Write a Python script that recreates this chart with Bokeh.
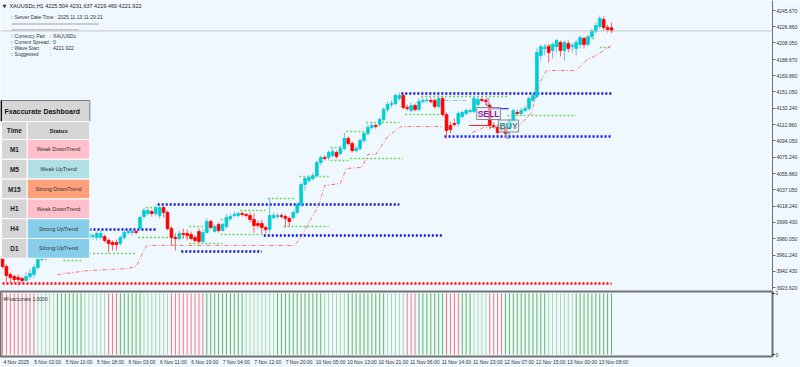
from bokeh.plotting import figure
from bokeh.layouts import column
from bokeh.models import ColumnDataSource, FixedTicker, PrintfTickFormatter, Span, Label, Range1d
from bokeh.core.properties import value
from bokeh.embed import file_html
from bokeh.resources import INLINE

FONT = "Liberation Sans"

# ---------------- data ----------------
opens = [3959.7, 3948.1, 3938.7, 3936.4, 3935.3, 3934.1, 3931.8, 3936.4, 3938.7, 3946.9,
         3956.2, 3962.0, 3958.5, 3967.8, 3972.5, 3969.0, 3977.1, 3980.6, 3976.0, 3981.8,
         3984.1, 3980.6, 3980.6, 3982.9, 3981.8, 3981.8, 3982.9, 3978.3, 3976.0, 3976.0,
         3974.8, 3981.8, 3987.6, 3987.6, 3988.7, 3992.2, 4006.2, 4009.7, 4012.0, 4009.7,
         4007.3, 4016.6, 4010.8, 3992.2, 3981.8, 3980.6, 3986.4, 3986.4, 3985.3, 3981.8,
         3988.7, 3977.1, 3987.6, 4000.4, 3988.7, 3996.9, 3989.9, 3994.6, 4003.9, 4007.3,
         4007.3, 4009.7, 4008.5, 4007.3, 4002.7, 3998.0, 3998.0, 3993.4, 3991.1, 4005.0,
         4006.2, 4007.3, 4006.2, 4003.9, 4005.0, 4010.8, 4020.1, 4043.4, 4048.0, 4050.4,
         4053.8, 4069.0, 4074.8, 4074.8, 4077.1, 4080.6, 4079.4, 4085.2, 4096.9, 4091.0,
         4082.9, 4085.2, 4094.5, 4102.7, 4109.7, 4112.0, 4113.1, 4119.0, 4130.6, 4136.4,
         4137.6, 4143.4, 4146.9, 4132.9, 4129.4, 4135.2, 4130.6, 4139.9, 4141.0, 4141.0,
         4141.0, 4134.1, 4143.4, 4124.8, 4112.0, 4114.3, 4114.3, 4122.4, 4125.9, 4128.3,
         4128.3, 4136.4, 4142.2, 4141.0, 4135.2, 4112.0, 4109.7, 4108.5, 4108.5, 4109.7,
         4117.8, 4127.1, 4125.9, 4129.4, 4131.7, 4141.0, 4145.7, 4193.4, 4201.5, 4203.8,
         4199.2, 4203.8, 4208.5, 4199.2, 4207.3, 4203.8, 4201.5, 4206.1, 4213.1, 4206.1,
         4215.4, 4221.3, 4227.1, 4235.2, 4225.9, 4225.504]
closes = [3948.1, 3937.6, 3935.3, 3932.9, 3932.9, 3931.8, 3936.4, 3939.9, 3946.9, 3956.2,
          3962.0, 3958.5, 3967.8, 3972.5, 3969.0, 3977.1, 3980.6, 3976.0, 3981.8, 3984.1,
          3980.6, 3982.9, 3986.4, 3984.1, 3986.4, 3986.4, 3978.3, 3974.8, 3973.6, 3973.6,
          3981.8, 3987.6, 3988.7, 3988.7, 3987.6, 4005.0, 4013.2, 4013.2, 4009.7, 4016.6,
          4016.6, 4010.8, 3992.2, 3981.8, 3980.6, 3986.4, 3985.3, 3984.1, 3980.6, 3978.3,
          3977.1, 3987.6, 4000.4, 3993.4, 3994.6, 3989.9, 3996.9, 4005.0, 4006.2, 4008.5,
          4009.7, 4008.5, 4007.3, 4002.7, 3995.7, 3995.7, 3993.4, 3991.1, 4007.3, 4007.3,
          4007.3, 4006.2, 4003.9, 4000.4, 4010.8, 4020.1, 4043.4, 4050.4, 4051.5, 4053.8,
          4069.0, 4074.8, 4073.6, 4080.6, 4081.7, 4075.9, 4085.2, 4096.9, 4091.0, 4082.9,
          4085.2, 4094.5, 4102.7, 4109.7, 4112.0, 4110.8, 4119.0, 4130.6, 4136.4, 4137.6,
          4146.9, 4146.9, 4132.9, 4131.7, 4135.2, 4130.6, 4139.9, 4141.0, 4141.6, 4139.9,
          4134.1, 4143.4, 4124.8, 4106.2, 4107.3, 4113.1, 4125.9, 4127.1, 4129.4, 4129.4,
          4143.4, 4142.2, 4141.0, 4139.9, 4112.0, 4110.8, 4103.8, 4107.3, 4102.7, 4117.8,
          4129.4, 4125.9, 4129.4, 4131.7, 4143.4, 4146.9, 4196.8, 4203.8, 4202.7, 4196.8,
          4206.1, 4210.8, 4199.2, 4208.5, 4201.5, 4205.0, 4208.5, 4214.3, 4206.1, 4215.4,
          4222.4, 4228.2, 4236.4, 4225.9, 4223.6, 4221.922]
highs = [3962.0, 3950.4, 3941.1, 3938.7, 3938.7, 3936.4, 3941.1, 3945.7, 3950.4, 3959.7,
         3965.5, 3964.3, 3971.3, 3976.0, 3974.8, 3980.6, 3984.1, 3982.9, 3985.3, 3987.6,
         3986.4, 3986.4, 3988.7, 3986.4, 3988.7, 3989.9, 3985.3, 3980.6, 3978.3, 3979.4,
         3984.1, 3991.1, 3991.1, 3991.1, 3991.1, 4007.3, 4016.6, 4015.5, 4014.3, 4019.0,
         4020.1, 4019.0, 4013.2, 3994.6, 3986.4, 3989.9, 3992.2, 3991.1, 3988.7, 3984.1,
         3992.2, 3991.1, 4003.9, 4002.7, 3996.9, 3999.2, 3999.2, 4008.5, 4009.7, 4012.0,
         4012.0, 4012.0, 4010.8, 4010.8, 4009.7, 4001.5, 4002.7, 3995.7, 4027.1, 4010.8,
         4009.7, 4009.7, 4008.5, 4006.2, 4013.2, 4022.5, 4045.7, 4052.7, 4053.8, 4057.3,
         4071.3, 4077.1, 4077.1, 4082.9, 4085.2, 4082.9, 4088.7, 4103.8, 4099.2, 4093.4,
         4088.7, 4096.9, 4105.0, 4113.1, 4115.5, 4114.3, 4121.3, 4132.9, 4139.9, 4141.0,
         4149.2, 4150.3, 4149.2, 4136.4, 4138.7, 4137.6, 4143.4, 4144.5, 4144.0, 4144.5,
         4143.4, 4146.9, 4145.7, 4127.1, 4116.6, 4120.1, 4128.3, 4129.4, 4131.7, 4131.7,
         4145.7, 4145.7, 4144.5, 4143.4, 4137.6, 4115.5, 4113.1, 4112.0, 4112.0, 4120.1,
         4131.7, 4130.6, 4132.9, 4135.2, 4145.7, 4150.3, 4201.5, 4206.1, 4206.1, 4206.1,
         4208.5, 4213.1, 4210.8, 4210.8, 4210.8, 4208.5, 4212.0, 4216.6, 4215.4, 4217.8,
         4224.7, 4231.7, 4239.9, 4238.7, 4229.0, 4231.637]
lows = [3945.7, 3929.4, 3928.3, 3928.3, 3926.0, 3928.3, 3930.6, 3932.9, 3934.1, 3944.6,
        3953.9, 3955.0, 3956.2, 3965.5, 3965.5, 3966.7, 3974.8, 3973.6, 3973.6, 3979.4,
        3978.3, 3978.3, 3979.4, 3979.4, 3978.3, 3979.4, 3976.0, 3964.3, 3966.7, 3966.7,
        3972.5, 3979.4, 3985.3, 3984.1, 3985.3, 3989.9, 4003.9, 4007.3, 4006.2, 4006.2,
        4003.9, 4005.0, 3989.9, 3972.5, 3966.7, 3978.3, 3980.6, 3978.3, 3978.3, 3976.0,
        3974.8, 3974.8, 3986.4, 3991.1, 3987.6, 3987.6, 3988.7, 3992.2, 4001.5, 4005.0,
        4005.0, 4006.2, 4005.0, 3999.2, 3987.6, 3992.2, 3986.4, 3986.4, 3987.6, 4002.7,
        4003.9, 4003.9, 3993.4, 3994.6, 4002.7, 4008.5, 4017.8, 4036.4, 4045.7, 4048.0,
        4051.5, 4065.5, 4071.3, 4071.3, 4074.8, 4073.6, 4077.1, 4082.9, 4088.7, 4080.6,
        4080.6, 4082.9, 4092.2, 4100.4, 4107.3, 4108.5, 4110.8, 4116.6, 4127.1, 4132.9,
        4135.2, 4141.0, 4130.6, 4129.4, 4127.1, 4128.3, 4128.3, 4137.6, 4138.5, 4137.6,
        4131.7, 4131.7, 4122.4, 4096.9, 4102.7, 4110.8, 4110.8, 4120.1, 4123.6, 4125.9,
        4125.9, 4134.1, 4138.7, 4136.4, 4107.3, 4108.5, 4101.5, 4105.0, 4098.0, 4107.3,
        4115.5, 4123.6, 4123.6, 4127.1, 4129.4, 4138.7, 4143.4, 4187.5, 4193.4, 4185.2,
        4189.9, 4196.8, 4192.2, 4187.5, 4196.8, 4196.8, 4193.4, 4201.5, 4201.5, 4203.8,
        4213.1, 4218.9, 4224.7, 4222.4, 4220.1, 4219.460]

price_ticks = [4245.670, 4226.860, 4208.050, 4188.670, 4169.860, 4151.050, 4132.240,
               4112.860, 4094.050, 4075.240, 4055.860, 4037.050, 4018.240, 3999.430,
               3980.050, 3961.240, 3942.430, 3923.620]
time_tick_idx = [0, 8, 16, 24, 32, 40, 48, 56, 64, 72, 80, 88, 96, 104, 112, 120, 128, 136, 144, 152]
time_tick_labels = ["4 Nov 2025", "5 Nov 02:00", "5 Nov 10:00", "5 Nov 18:00", "6 Nov 03:00",
                    "6 Nov 11:00", "6 Nov 19:00", "7 Nov 04:00", "7 Nov 12:00", "7 Nov 20:00",
                    "10 Nov 05:00", "10 Nov 13:00", "10 Nov 21:00", "11 Nov 06:00", "11 Nov 14:00",
                    "11 Nov 23:00", "12 Nov 07:00", "12 Nov 15:00", "13 Nov 00:00", "13 Nov 08:00"]

# histogram state per bar: r = down, g = strong up, p = weak up
hist_state = list("rrrrrrrrr" "ppppp" "ggggggg" "pppppp" "rrr" "gggggg" "ppppppp" "rrrrrrrrr"
                  "gggggggggg" "pppppppp" "gggggggggggg" "pppppp" "gggggggggg" "ppppp" "rrr"
                  "ggggggg" "rrrr" "ggg" "pppp" "rrrr" "ggggggggggg" "ppppppp" "gggggggggg")
hist_level = 1.0

# support / resistance levels (blue dotted)
sr_i0 = [14, 39.5, 45.5, 66.5, 101.5, 112.5]
sr_i1 = [39, 101, 66, 112, 155, 155]
sr_p = [3991.1, 4020.1, 3965.5, 3984.1, 4149.2, 4099.2]
low_level_i0, low_level_i1, low_level_p = 0, 155, 3928.3

# green dotted zones
g_i0 = [15.5, 22, 34.5, 36.5, 47.5, 47.5, 55.5, 60.5, 55.5, 67.5, 71.5, 75.5, 83.5, 83.5,
        87.5, 88.5, 92.5, 102.5, 106.5, 128.5, 138, 147, 152]
g_i1 = [20, 34, 47.5, 38.5, 51, 56, 58.5, 67, 66.5, 74.5, 83, 83, 88, 86, 92, 102, 101,
        111.5, 128.5, 146, 144.5, 151, 155]
g_p = [3955.0, 3963.2, 3981.8, 4016.6, 3994.6, 3974.8, 4002.7, 4013.2, 3985.3, 4027.1,
       3994.6, 4052.7, 4071.3, 4086.4, 4105.0, 4073.6, 4115.5, 4124.8, 4145.7, 4123.6,
       4205.0, 4213.1, 4202.7]

# trailing stop
trail_a_i = [14, 22, 32, 34, 36.5, 37.5, 74, 75.5, 78, 80.5, 82, 86, 87.5, 91.5, 93, 95, 98, 101.5, 112]
trail_a_p = [3938.7, 3943.4, 3945.7, 3948.1, 3971.3, 3972.5, 3972.5, 3978.3, 3999.2, 4019.0,
             4042.2, 4044.5, 4062.0, 4063.2, 4078.3, 4078.3, 4099.2, 4110.8, 4110.8]
trail_b_i = [119.5, 122.5, 131, 134.5, 137, 138.5, 146, 148.5, 151, 155]
trail_b_p = [4103.8, 4109.7, 4109.7, 4125.9, 4164.3, 4175.9, 4175.9, 4187.5, 4193.4, 4205.0]
trail_s_i = [112.5, 118]
trail_s_p = [4141.0, 4141.0]

# signals
sig_text = ["SELL", "BUY"]
sig_i = [123.7, 128.8]
sig_p = [4125.9, 4111.4]
sig_arrow = ["\u21e9", "\u21e7"]
sig_arrow_p = [4138.7, 4100.9]
entry_red_i, entry_red_p = [118.7, 123.7], 4112.0
entry_blue_i, entry_blue_p = [124.0, 128.8], 4131.7

current_price = 4221.922

timeframes = ["M1", "M5", "M15", "H1", "H4", "D1"]
statuses = ["Weak DownTrend", "Weak UpTrend", "Strong DownTrend", "Weak DownTrend",
            "Strong UpTrend", "Strong UpTrend"]
status_colors = {"Weak DownTrend": "#FFC0CB", "Weak UpTrend": "#B0E0E6",
                 "Strong DownTrend": "#FFA07A", "Strong UpTrend": "#87CEEB"}

header_text = "XAUUSDc,H1  4225.504 4231.637 4219.460 4221.922"
info_names = [":: Currency Pair", ":: Current Spread", ":: Wave Start", ":: Suggested"]
info_values = [":  XAUUSDc", ":  0", ":  4221.922", ":"]
server_text = ":: Server Date Time : 2025.11.13    11:29:21"

# ---------------- layout helpers ----------------
W, H = 778, 290
XL, XR = -0.505, 195.96
YT = 4257.3
YB = YT - H * 1.1626
LABEL_SHIFT = 3.5  # time labels start at their bar (left aligned look)


def px2x(px):
    return XL + px * (XR - XL) / W


def py2y(py):
    return YT - py * (YT - YB) / H


BG = "#F0F8FF"

p = figure(width=800, height=290, x_range=Range1d(XL, XR), y_range=Range1d(YB, YT),
           output_backend="svg", toolbar_location=None, x_axis_location=None,
           y_axis_location="right", min_border_left=0, min_border_top=0, min_border_bottom=0,
           min_border_right=22, background_fill_color=BG, border_fill_color=BG,
           outline_line_color=None)
p.grid.visible = False
yax = p.yaxis[0]
yax.ticker = FixedTicker(ticks=price_ticks)
yax.formatter = PrintfTickFormatter(format="%.3f")
yax.major_label_text_font = FONT
yax.major_label_text_font_size = "5px"
yax.major_label_text_color = "#333333"
yax.major_tick_out = 3
yax.major_tick_in = 0
yax.minor_tick_line_color = None
yax.axis_line_color = "#707070"
yax.major_tick_line_color = "#707070"
yax.major_label_standoff = 1

# current price line
p.add_layout(Span(location=current_price, dimension="width", line_color="#C8C8C8", line_width=1))

# levels
p.segment(x0=[low_level_i0], x1=[low_level_i1], y0=[low_level_p], y1=[low_level_p],
          line_color="#FF0000", line_width=2.5, line_dash="2 2")
p.segment(x0=sr_i0, x1=sr_i1, y0=sr_p, y1=sr_p, line_color="#1010F0", line_width=2.5, line_dash="2 2")
p.segment(x0=g_i0, x1=g_i1, y0=g_p, y1=g_p, line_color="#6CD85A", line_width=1.5, line_dash="2 2")
p.line(trail_a_i, trail_a_p, line_color="#FF5A5A", line_width=1, line_dash="4 2 1 2", line_alpha=0.85)
p.line(trail_b_i, trail_b_p, line_color="#FF5A5A", line_width=1, line_dash="4 2 1 2", line_alpha=0.85)
p.line(trail_s_i, trail_s_p, line_color="#8CB8F0", line_width=1, line_dash="4 2 1 2")
p.line(entry_red_i, [entry_red_p] * 2, line_color="#FF2020", line_width=1.2)
p.line(entry_blue_i, [entry_blue_p] * 2, line_color="#3030FF", line_width=1.2)

# candles
idx = list(range(len(closes)))
up = [c >= o for o, c in zip(opens, closes)]
src = ColumnDataSource(dict(
    i=idx, o=opens, c=closes, h=highs, l=lows,
    top=[max(o, c) for o, c in zip(opens, closes)],
    bot=[min(o, c) for o, c in zip(opens, closes)],
    body=["#00CED1" if u else "#FF0000" for u in up],
    wick=["#7FB4EE" if u else "#FF5C5C" for u in up],
))
p.segment(x0="i", x1="i", y0="l", y1="h", line_color="wick", line_width=1, source=src)
p.vbar(x="i", width=0.7, top="top", bottom="bot", fill_color="body", line_color="body",
       line_width=0.8, source=src)

# signals
for t, xi, yp, ar, ap in zip(sig_text, sig_i, sig_p, sig_arrow, sig_arrow_p):
    col = "#8B1A9B" if t == "SELL" else "#2E8B8B"
    p.add_layout(Label(x=xi, y=yp, text=t, text_align="center", text_baseline="middle",
                       text_font=FONT, text_font_size="8.5px", text_font_style="bold",
                       text_color=col, border_line_color="#8A8A8A", border_line_width=1,
                       background_fill_color="#E8EEF6", background_fill_alpha=0.6, padding=1))
    p.add_layout(Label(x=xi - 0.2, y=ap, text=ar, text_align="center", text_baseline="middle",
                       text_font="DejaVu Sans", text_font_size="10px", text_color=col))

# ---------------- header texts ----------------
p.text(x=[px2x(2)], y=[py2y(5)], text=["\u25bc"], text_font=value("DejaVu Sans"),
       text_font_size="5px", text_color="#333333", text_baseline="middle")
p.text(x=[px2x(9)], y=[py2y(5)], text=[header_text], text_font=value(FONT),
       text_font_size="5.5px", text_color="#222222", text_baseline="middle")
p.text(x=[px2x(10)], y=[py2y(16)], text=[server_text], text_font=value(FONT),
       text_font_size="5px", text_color="#333333", text_baseline="middle")
p.text(x=[px2x(11), px2x(11)], y=[py2y(23), py2y(29)],
       text=["=" * 30, "=" * 23], text_font=value(FONT),
       text_font_size="5px", text_color="#9A9A9A", text_baseline="middle")
info_y = [py2y(35 + 6 * k) for k in range(len(info_names))]
p.text(x=[px2x(10)] * len(info_names), y=info_y, text=info_names, text_font=value(FONT),
       text_font_size="5px", text_color="#333333", text_baseline="middle")
p.text(x=[px2x(50)] * len(info_values), y=info_y, text=info_values, text_font=value(FONT),
       text_font_size="5px", text_color="#333333", text_baseline="middle")

# ---------------- dashboard ----------------
p.quad(left=[px2x(0.5)], right=[px2x(90)], top=[py2y(100)], bottom=[py2y(121)],
       fill_color="#D6D6D6", line_color="#7A7A7A", line_width=1)
p.segment(x0=[px2x(0.7)], x1=[px2x(0.7)], y0=[py2y(100)], y1=[py2y(121)],
          line_color="#000000", line_width=1.5)
p.text(x=[px2x(4)], y=[py2y(110.5)], text=["Fxaccurate Dashboard"], text_font=value(FONT),
       text_font_size="7px", text_font_style="bold", text_color="#111111", text_baseline="middle")

row_top = [121] + [139 + 19.8 * k for k in range(len(timeframes))]
row_bot = [139] + [139 + 19.8 * (k + 1) for k in range(len(timeframes))]
left_col = ["Time"] + timeframes
right_fill = ["#D6D6D6"] + [status_colors[s] for s in statuses]
p.quad(left=[px2x(1)] * len(row_top), right=[px2x(27)] * len(row_top),
       top=[py2y(t) for t in row_top], bottom=[py2y(b) for b in row_bot],
       fill_color="#D6D6D6", line_color="#FFFFFF", line_width=1)
p.quad(left=[px2x(27)] * len(row_top), right=[px2x(90)] * len(row_top),
       top=[py2y(t) for t in row_top], bottom=[py2y(b) for b in row_bot],
       fill_color=right_fill, line_color="#FFFFFF", line_width=1)
mid_y = [py2y((t + b) / 2) for t, b in zip(row_top, row_bot)]
p.text(x=[px2x(14)] * len(left_col), y=mid_y, text=left_col, text_font=value(FONT),
       text_font_size="6.5px", text_font_style="bold", text_color="#222222",
       text_align="center", text_baseline="middle")
p.text(x=[px2x(58.5)], y=[mid_y[0]], text=["Status"], text_font=value(FONT),
       text_font_size="6px", text_font_style="bold", text_color="#222222",
       text_align="center", text_baseline="middle")
p.text(x=[px2x(58.5)] * len(statuses), y=mid_y[1:], text=statuses, text_font=value(FONT),
       text_font_size="5.5px", text_color="#333333", text_align="center", text_baseline="middle")

# ---------------- lower indicator panel ----------------
p2 = figure(width=800, height=77, x_range=p.x_range, y_range=Range1d(-0.03, 1.03),
            output_backend="svg", toolbar_location=None, y_axis_location="right",
            min_border_left=0, min_border_top=1, min_border_bottom=11, min_border_right=22,
            background_fill_color=BG, border_fill_color=BG,
            outline_line_color="#707070", outline_line_width=2)
p2.grid.visible = False
hcol = {"r": "#F27A80", "g": "#5DB85D", "p": "#A8D8A8"}
p2.segment(x0=idx, x1=idx, y0=[0] * len(idx), y1=[hist_level] * len(idx),
           line_color=[hcol[s] for s in hist_state], line_width=1)
p2.add_layout(Label(x=px2x(3), y=0.9, text="#Fxaccurate 1.0000", text_font=FONT,
                    text_font_size="5px", text_color="#333333", text_baseline="middle"))
ya2 = p2.yaxis[0]
ya2.ticker = FixedTicker(ticks=[0, 1])
ya2.major_label_text_font = FONT
ya2.major_label_text_font_size = "5px"
ya2.major_label_text_color = "#333333"
ya2.major_tick_out = 2
ya2.major_tick_in = 0
ya2.minor_tick_line_color = None
ya2.axis_line_color = None
ya2.major_label_standoff = 1
xa2 = p2.xaxis[0]
shifted = [t + LABEL_SHIFT for t in time_tick_idx]
xa2.ticker = FixedTicker(ticks=shifted)
xa2.major_label_overrides = {t: s for t, s in zip(shifted, time_tick_labels)}
xa2.major_label_text_font = FONT
xa2.major_label_text_font_size = "5px"
xa2.major_label_text_color = "#333333"
xa2.major_tick_out = 0
xa2.major_tick_in = 0
xa2.major_tick_line_color = None
xa2.minor_tick_line_color = None
xa2.axis_line_color = "#707070"
xa2.major_label_standoff = 2

layout = column(p, p2, spacing=0)
open("out.html", "w").write(file_html(layout, INLINE))
